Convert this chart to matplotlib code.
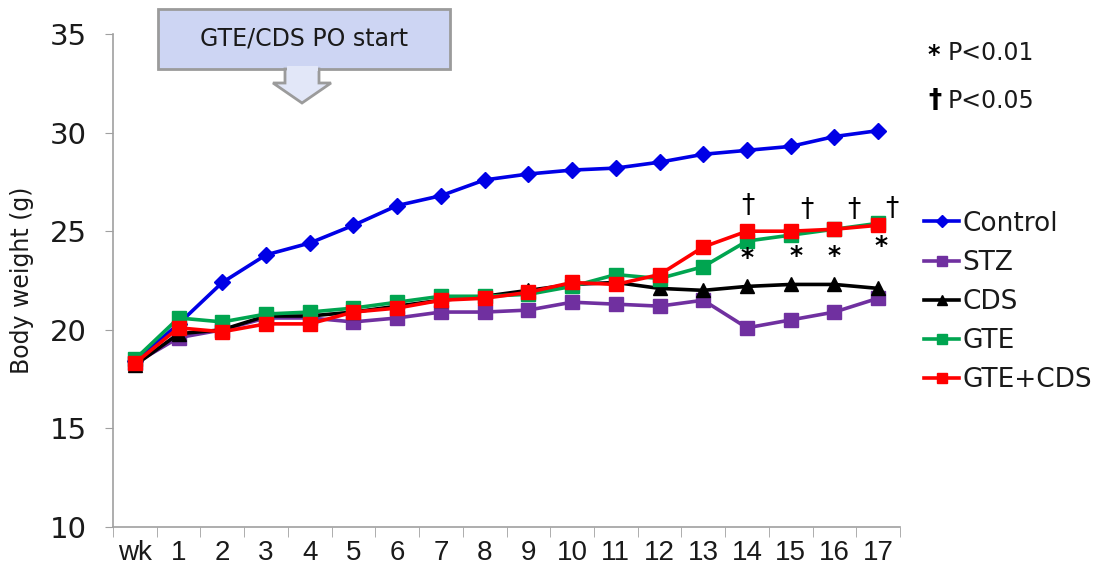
import matplotlib
matplotlib.use("Agg")
import matplotlib.pyplot as plt
from matplotlib.patches import Rectangle, Polygon

# ---- data -------------------------------------------------------------
weeks = ["wk", "1", "2", "3", "4", "5", "6", "7", "8", "9",
         "10", "11", "12", "13", "14", "15", "16", "17"]

control = [18.4, 20.3, 22.4, 23.8, 24.4, 25.3, 26.3, 26.8, 27.6, 27.9,
           28.1, 28.2, 28.5, 28.9, 29.1, 29.3, 29.8, 30.1]
stz = [18.3, 19.6, 20.0, 20.6, 20.6, 20.4, 20.6, 20.9, 20.9, 21.0,
       21.4, 21.3, 21.2, 21.5, 20.1, 20.5, 20.9, 21.6]
cds = [18.2, 19.8, 20.0, 20.7, 20.7, 20.9, 21.2, 21.5, 21.7, 22.0,
       22.3, 22.4, 22.1, 22.0, 22.2, 22.3, 22.3, 22.1]
gte = [18.5, 20.6, 20.4, 20.8, 20.9, 21.1, 21.4, 21.7, 21.7, 21.8,
       22.2, 22.8, 22.6, 23.2, 24.5, 24.8, 25.1, 25.4]
gte_cds = [18.3, 20.1, 19.9, 20.3, 20.3, 20.9, 21.1, 21.5, 21.6, 21.9,
           22.4, 22.3, 22.8, 24.2, 25.0, 25.0, 25.1, 25.3]

series_names = ["Control", "STZ", "CDS", "GTE", "GTE+CDS"]
series_values = [control, stz, cds, gte, gte_cds]

# weeks flagged as significant (index into weeks)
sig_weeks = [14, 15, 16, 17]

y_ticks = [10, 15, 20, 25, 30, 35]

# ---- style ------------------------------------------------------------
plt.rcParams["font.family"] = ["DejaVu Sans"]
text_color = "#1a1a1a"
styles = [
    dict(color="#0000e6", marker="D", ms=8),
    dict(color="#7030a0", marker="s", ms=10),
    dict(color="#000000", marker="^", ms=10),
    dict(color="#00a550", marker="s", ms=10),
    dict(color="#ff0000", marker="s", ms=10),
]

W, H = 1107, 585
fig = plt.figure(figsize=(W / 100, H / 100), dpi=100)
ax = fig.add_axes([113 / W, 1 - 527 / H, (900 - 113) / W, (527 - 34) / H])

x = list(range(len(weeks)))
for name, vals, st in zip(series_names, series_values, styles):
    ax.plot(x, vals, color=st["color"], marker=st["marker"],
            markersize=st["ms"], linewidth=2.6, label=name,
            markeredgecolor=st["color"], clip_on=False)

ax.set_xlim(-0.5, len(weeks) - 0.5)
ax.set_ylim(10, 35)
ax.set_yticks(y_ticks)
ax.set_xticks(x)
ax.set_xticklabels(weeks)
ax.set_xticks([i - 0.5 for i in range(len(weeks) + 1)], minor=True)

for side in ["top", "right"]:
    ax.spines[side].set_visible(False)
for side in ["left", "bottom"]:
    ax.spines[side].set_color("#a0a0a0")
    ax.spines[side].set_linewidth(1.2)

ax.tick_params(axis="y", direction="out", length=6, color="#a0a0a0",
               labelsize=21, pad=13, labelcolor=text_color)
ax.tick_params(axis="x", which="major", length=0, labelsize=20, pad=9,
               labelcolor=text_color)
ax.tick_params(axis="x", which="minor", direction="out", length=7,
               color="#a0a0a0")
for lab in ax.get_xticklabels():
    lab.set_family(["Liberation Sans", "DejaVu Sans"])

ax.set_ylabel("Body weight (g)", fontsize=17, labelpad=11,
              color=text_color)

# significance marks: daggers above GTE+CDS, asterisks below GTE
dagger_offsets = [(1, 18), (12, 15), (14, 14), (10, 12)]
star_offsets = [(0, -12), (4, -15), (0, -19), (2, -16)]
for wk_i, (ddx, ddy), (sdx, sdy) in zip(sig_weeks, dagger_offsets, star_offsets):
    ax.annotate("\u2020", xy=(wk_i, gte_cds[wk_i]), xytext=(ddx, ddy),
                textcoords="offset points", ha="center", va="center",
                fontsize=19, annotation_clip=False)
    ax.annotate("*", xy=(wk_i, gte[wk_i]), xytext=(sdx, sdy),
                textcoords="offset points", ha="center", va="center",
                fontsize=18, fontweight="bold", annotation_clip=False)

# legend
leg = ax.legend(loc="upper left", bbox_to_anchor=(1.0, 0.69), frameon=False,
                fontsize=19, handlelength=1.35, handletextpad=0.1,
                labelspacing=0.5, borderaxespad=0.5, markerscale=0.75)
for t in leg.get_texts():
    t.set_color(text_color)

# overlay in pixel coordinates for the callout and the P-value key
ov = fig.add_axes([0, 0, 1, 1], zorder=5)
ov.set_xlim(0, W)
ov.set_ylim(H, 0)
ov.axis("off")

box_fill = "#cdd5f3"
arrow_fill = "#e2e7f8"
box_edge = "#9b9b9b"
ov.add_patch(Rectangle((158, 9), 292, 60, facecolor=box_fill,
                       edgecolor=box_edge, linewidth=2))
ov.add_patch(Polygon([(285, 69), (319, 69), (319, 83), (331, 83),
                      (302, 103), (273, 83), (285, 83)],
                     closed=True, facecolor=arrow_fill, edgecolor=box_edge,
                     linewidth=2))
ov.add_patch(Rectangle((286.5, 66), 31, 5, facecolor=arrow_fill,
                       edgecolor="none"))
ov.text(304, 38, "GTE/CDS PO start", ha="center", va="center",
        fontsize=17, color=text_color)

ov.text(927, 55, "*", ha="left", va="center", fontsize=17,
        fontweight="bold")
ov.text(948, 53, "P<0.01", ha="left", va="center", fontsize=17,
        color=text_color)
ov.text(928, 101, "\u2020", ha="left", va="center", fontsize=19,
        fontweight="bold")
ov.text(948, 101, "P<0.05", ha="left", va="center", fontsize=17,
        color=text_color)

fig.savefig("out.png", dpi=100)
